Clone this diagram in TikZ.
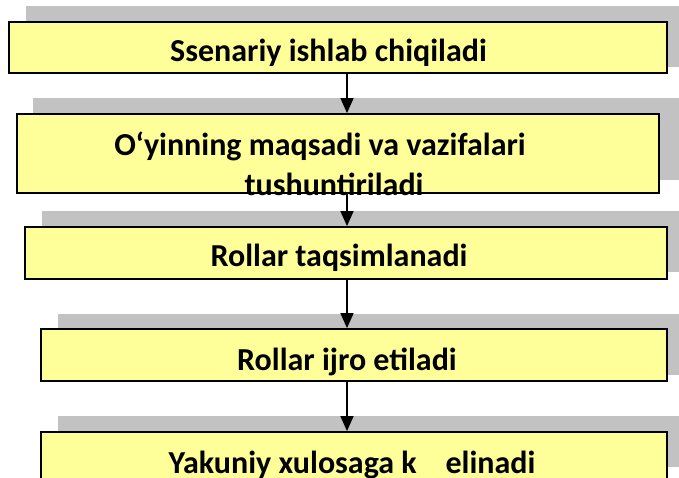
\documentclass[tikz,border=0pt]{standalone}
\usepackage{fontspec}
\setmainfont{Carlito}
\usetikzlibrary{arrows.meta}
\definecolor{boxyellow}{RGB}{255,255,153}
\definecolor{shadowgray}{RGB}{194,194,194}
\begin{document}
\begin{tikzpicture}[x=1pt,y=-1pt,
  box/.style={draw=black,line width=1.8pt,fill=boxyellow,inner sep=0pt},
  lbl/.style={font=\bfseries\fontsize{32}{38}\selectfont,inner sep=0pt,anchor=base},
  conn/.style={-{Triangle[length=15pt,width=13pt]},line width=1.4pt}]
\useasboundingbox (0,0) rectangle (679,477);
\clip (0,0) rectangle (679,477);
% shadows
\fill[shadowgray] (26,6) rectangle (690,67);
\fill[shadowgray] (33,98) rectangle (690,180);
\fill[shadowgray] (42,211) rectangle (690,272);
\fill[shadowgray] (58,314) rectangle (690,375);
\fill[shadowgray] (58,416) rectangle (690,467);
% boxes
\node[box,minimum width=658pt,minimum height=51pt] (b1) at (338,47.5) {};
\node[box,minimum width=642pt,minimum height=79pt] (b2) at (338,153.5) {};
\node[box,minimum width=642pt,minimum height=52pt] (b3) at (346,253) {};
\node[box,minimum width=626pt,minimum height=52pt] (b4) at (354,355) {};
\node[box,minimum width=626pt,minimum height=60pt] (b5) at (354,462) {};
% texts
\node[lbl] (t1) at (328.5,61.7) {Ssenariy ishlab chiqiladi};
\node[lbl] (t2a) at (320,155) {O{\char"60}yinning maqsadi va vazifalari};
\node[lbl] (t2b) at (334,195) {tushuntiriladi};
\node[lbl] (t3) at (339,266.7) {Rollar taqsimlanadi};
\node[lbl] (t4) at (347,370) {Rollar ijro etiladi};
\node[lbl] (t5) at (352,473) {Yakuniy xulosaga k\hspace{0.9em}elinadi};
% connectors
\coordinate (ax) at (347,0);
\draw[conn] (b1.south -| ax) -- (b2.north -| ax);
\draw[conn] (b2.south -| ax) -- (b3.north -| ax);
\draw[conn] (b3.south -| ax) -- (b4.north -| ax);
\draw[conn] (b4.south -| ax) -- (b5.north -| ax);
\end{tikzpicture}
\end{document}
